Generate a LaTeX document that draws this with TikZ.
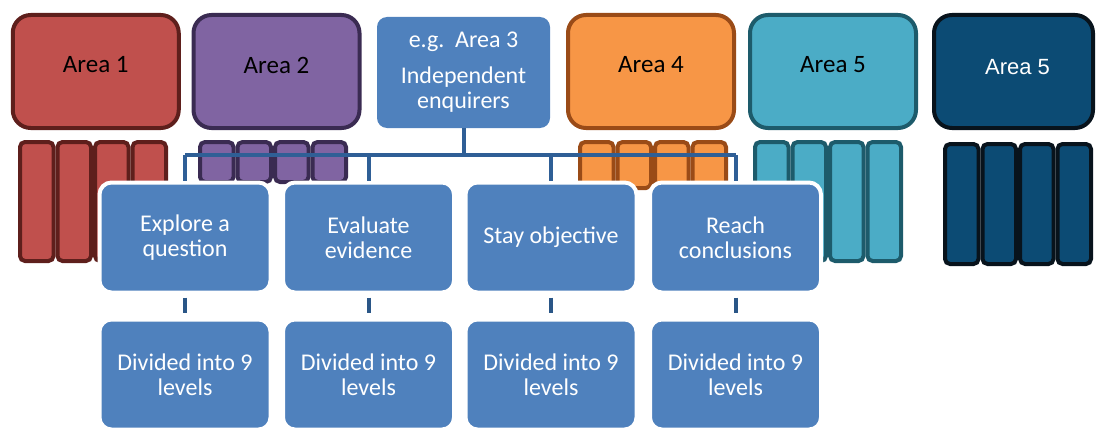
\documentclass[tikz,border=0pt]{standalone}
\usepackage{fontspec}
\setmainfont{Carlito}
\newfontfamily\arialfont{Liberation Sans}
\usetikzlibrary{positioning}
\definecolor{areared}{HTML}{C0504D}
\definecolor{redline}{HTML}{5E1F1C}
\definecolor{areapurple}{HTML}{8064A2}
\definecolor{purpleline}{HTML}{3A2B52}
\definecolor{areablue}{HTML}{4F81BD}
\definecolor{treeline}{HTML}{2F5F96}
\definecolor{areaorange}{HTML}{F79646}
\definecolor{orangeline}{HTML}{9A4B17}
\definecolor{areateal}{HTML}{4BACC6}
\definecolor{tealline}{HTML}{1D5B6B}
\definecolor{areanavy}{HTML}{0C4B74}
\definecolor{navyline}{HTML}{08131C}
\tikzset{
  areabox/.style={rectangle, rounded corners=18pt, line width=4pt, minimum width=166pt,
    minimum height=113pt, inner sep=0pt},
  arealabel/.style={font=\fontsize{25}{28}\selectfont, text=black, inner sep=0pt},
  column/.style={rounded corners=5pt, line width=4pt},
  skillbox/.style={rectangle, rounded corners=12pt, draw=white, line width=4pt, fill=areablue,
    minimum width=171pt, minimum height=110pt, text=white, align=center,
    font=\fontsize{24}{25}\selectfont},
  tree/.style={draw=treeline, line width=4pt},
  link/.style={draw=treeline!90!black, line width=4pt, shorten <=3pt, shorten >=5pt},
}
\begin{document}
\begin{tikzpicture}[x=1pt,y=-1pt]
\useasboundingbox (0,0) rectangle (1096,428);
\clip (0,0) rectangle (1096,428);
% top row of areas
\node[areabox, fill=areared, draw=redline] (area1) at (95.75,71.5) {};
\node[areabox, fill=areapurple, draw=purpleline] (area2) at (276.5,71.5) {};
\node[rectangle, rounded corners=10pt, fill=areablue, minimum width=173pt, minimum height=111pt,
  text=white, align=center, font=\fontsize{24}{25}\selectfont] (area3) at (463.5,72.5)
  {e.g.~~Area 3\\[11pt]Independent\\enquirers};
\node[areabox, fill=areaorange, draw=orangeline] (area4) at (651,71.5) {};
\node[areabox, fill=areateal, draw=tealline] (area5) at (833,71.5) {};
\node[areabox, fill=areanavy, draw=navyline, minimum width=159pt] (area5b) at (1013.5,71.5) {};
\node[arealabel] (area1text) at ([yshift=6.5pt]area1.center) {Area 1};
\node[arealabel] (area2text) at ([yshift=6.5pt]area2.center) {Area 2};
\node[arealabel] (area4text) at ([yshift=6.5pt]area4.center) {Area 4};
\node[arealabel] (area5text) at ([yshift=6.5pt]area5.center) {Area 5};
\node[arealabel, text=white, font=\arialfont\fontsize{22}{26}\selectfont] (area5btext)
  at ([xshift=4pt,yshift=4.5pt]area5b.center) {Area 5};
% columns under the areas
\foreach \left/\top/\bottom/\fillc/\linec in {18/142/261/areared/redline,
  198/142/182/areapurple/purpleline, 578/142/188/areaorange/orangeline,
  753/142/261/areateal/tealline, 943/144/264/areanavy/navyline}
  \foreach \i in {0,1,2,3}
    \draw[column, fill=\fillc, draw=\linec] ({\left+2+37.5*\i},\top) rectangle ({\left+35.5+37.5*\i},\bottom);
% skills of area 3
\node[skillbox] (skill1) at (185,237.5) {Explore a\\question};
\node[skillbox] (skill2) at (368.5,237.5) {Evaluate\\evidence};
\node[skillbox] (skill3) at (551,237.5) {Stay objective};
\node[skillbox] (skill4) at (735.5,237.5) {Reach\\conclusions};
\coordinate (fork) at (463.5,155);
\draw[tree] (area3.south) -- (fork);
\draw[tree] (skill1.north |- fork) -- (skill4.north |- fork);
\foreach \n in {1,2,3,4}
  \draw[tree] (skill\n.north |- fork) -- (skill\n.north);
% levels
\foreach \n in {1,2,3,4}
  \node[skillbox] (level\n) at ([yshift=-137pt]skill\n.center) {Divided into 9\\levels};
\foreach \n in {1,2,3,4}
  \draw[link] (skill\n) -- (level\n);
\end{tikzpicture}
\end{document}
